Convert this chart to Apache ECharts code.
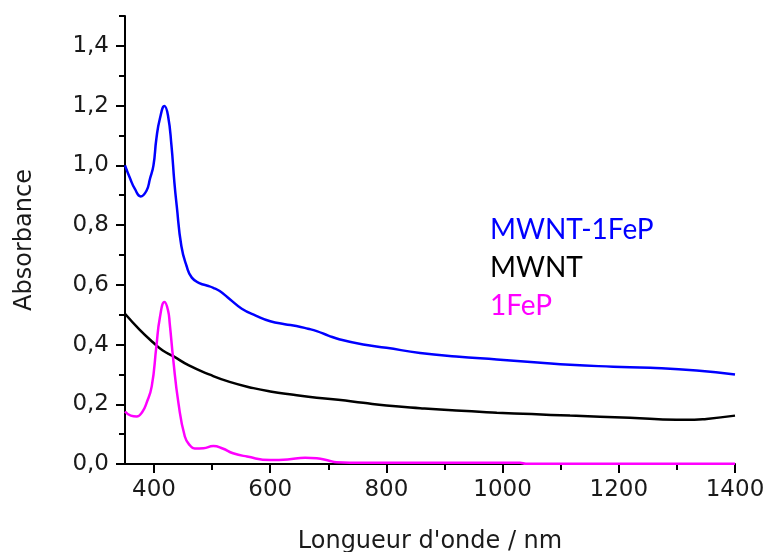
<!DOCTYPE html>
<html>
<head>
<meta charset="utf-8">
<script src="https://cdn.jsdelivr.net/npm/echarts@6/dist/echarts.min.js"></script>
<style>
html,body{margin:0;padding:0;background:#fff;}
#chart{width:770px;height:552px;}
</style>
</head>
<body>
<div id="chart"></div>
<script>
// ---- Data ----
const seriesNames = ['MWNT-1FeP', 'MWNT', '1FeP'];

const wlBlue = [350,359,367,377,387,393,399,404,410,418,424,430,435,439,447,456,465,479,492,502,513,531,551,575,600,625,645,665,680,700,720,760,800,858,920,990,1060,1116,1190,1254,1334,1400];
const absBlue = [1.00,0.955,0.921,0.896,0.915,0.955,1.00,1.089,1.156,1.199,1.167,1.066,0.943,0.865,0.73,0.663,0.624,0.605,0.597,0.59,0.579,0.551,0.52,0.497,0.478,0.468,0.462,0.453,0.445,0.43,0.417,0.40,0.389,0.372,0.36,0.35,0.34,0.332,0.326,0.322,0.313,0.30];

const wlBlack = [350,375,399,415,433,460,496,530,571,600,640,680,717,760,800,858,920,990,1050,1116,1219,1299,1330,1351,1400];
const absBlack = [0.503,0.45,0.406,0.38,0.361,0.33,0.299,0.275,0.254,0.243,0.232,0.222,0.215,0.205,0.196,0.187,0.179,0.172,0.167,0.162,0.155,0.148,0.148,0.151,0.162];

const wlMag = [350,360,370,380,387,396,404,410,418,424,427,433,442,453,462,470,485,502,518,536,560,600,630,660,680,700,714,760,850,950,1030,1040,1200,1400];
const absMag = [0.176,0.162,0.159,0.175,0.204,0.26,0.394,0.49,0.542,0.515,0.47,0.35,0.204,0.092,0.062,0.052,0.053,0.06,0.052,0.036,0.025,0.013,0.015,0.021,0.019,0.012,0.006,0.004,0.004,0.004,0.004,0.001,0.001,0.001];

const xMajorTicks = [400,600,800,1000,1200,1400];
const xMinorTicks = [500,700,900,1100,1300];
const yMajorTicks = [0,0.2,0.4,0.6,0.8,1.0,1.2,1.4];
const yMinorTicks = [0.1,0.3,0.5,0.7,0.9,1.1,1.3,1.5];

const xTitle = "Longueur d'onde / nm";
const yTitle = 'Absorbance';

// ---- Chart ----
const zip = (xs, ys) => xs.map((x, i) => [x, ys[i]]);
const chart = echarts.init(document.getElementById('chart'), null, {renderer: 'canvas'});
const tickFont = {fontFamily: 'DejaVu Sans', fontSize: 23, color: '#1a1a1a'};
const colors = ['#0000ff', '#000000', '#ff00ff'];

const baseX = {
  type: 'value', min: 350, max: 1400, position: 'bottom', offset: 0,
  splitLine: {show: false}
};
const baseY = {
  type: 'value', min: 0, max: 1.5, position: 'left', offset: 0,
  splitLine: {show: false}
};

chart.setOption({
  animation: false,
  backgroundColor: '#ffffff',
  grid: {left: 125, right: 35, top: 16, bottom: 88, containLabel: false, outerBoundsMode: 'none'},
  xAxis: [
    Object.assign({}, baseX, {
      name: xTitle, nameLocation: 'middle', nameGap: 66,
      nameTextStyle: {fontFamily: 'DejaVu Sans', fontSize: 24, color: '#1a1a1a'},
      axisLine: {show: true, lineStyle: {color: '#000', width: 2}},
      axisTick: {show: true, inside: false, length: 9, lineStyle: {color: '#000', width: 2}, customValues: xMajorTicks},
      axisLabel: Object.assign({margin: 15, customValues: xMajorTicks, formatter: v => String(v)}, tickFont)
    }),
    Object.assign({}, baseX, {
      axisLine: {show: false},
      axisTick: {show: true, inside: false, length: 6, lineStyle: {color: '#000', width: 2}, customValues: xMinorTicks},
      axisLabel: {show: false}
    })
  ],
  yAxis: [
    Object.assign({}, baseY, {
      name: yTitle, nameLocation: 'middle', nameGap: 88, nameRotate: 90,
      nameTextStyle: {fontFamily: 'DejaVu Sans', fontSize: 24, color: '#1a1a1a'},
      axisLine: {show: true, lineStyle: {color: '#000', width: 2}},
      axisTick: {show: true, inside: false, length: 9, lineStyle: {color: '#000', width: 2}, customValues: yMajorTicks},
      axisLabel: Object.assign({margin: 16, customValues: yMajorTicks, formatter: v => v.toFixed(1).replace('.', ',')}, tickFont)
    }),
    Object.assign({}, baseY, {
      axisLine: {show: false},
      axisTick: {show: true, inside: false, length: 6, lineStyle: {color: '#000', width: 2}, customValues: yMinorTicks},
      axisLabel: {show: false}
    })
  ],
  series: [
    {name: seriesNames[0], data: zip(wlBlue, absBlue)},
    {name: seriesNames[1], data: zip(wlBlack, absBlack)},
    {name: seriesNames[2], data: zip(wlMag, absMag)}
  ].map((s, i) => Object.assign(s, {
    type: 'line', xAxisIndex: 0, yAxisIndex: 0, showSymbol: false,
    smooth: 0.5,
    lineStyle: {color: colors[i], width: 2.5}, itemStyle: {color: colors[i]}
  })),
  graphic: seriesNames.map((n, i) => ({
    type: 'text', left: 490, top: 216 + i * 38,
    style: {text: n, fill: colors[i], font: '28px Lato'}
  }))
});
</script>
</body>
</html>
